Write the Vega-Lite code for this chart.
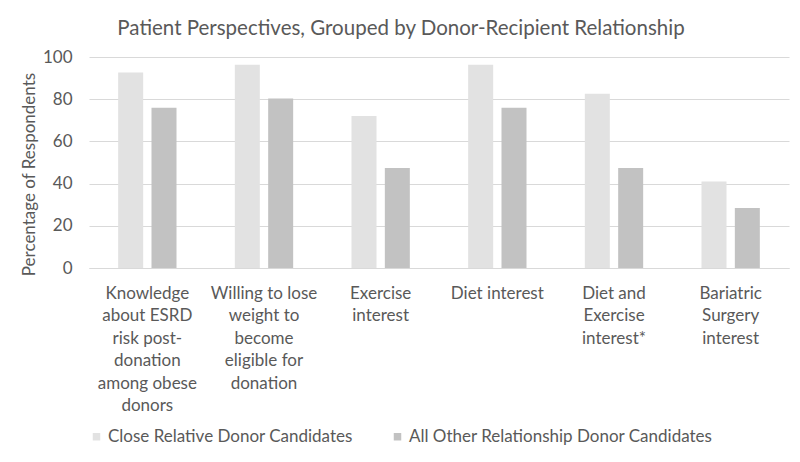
{
  "$schema": "https://vega.github.io/schema/vega-lite/v6.json",
  "width": 700,
  "height": 211,
  "autosize": {"type": "none"},
  "padding": {"left": 89, "top": 57, "right": 11, "bottom": 194},
  "background": "white",
  "config": {
    "font": "Lato",
    "view": {"stroke": null}
  },
  "title": {
    "text": "Patient Perspectives, Grouped by Donor-Recipient Relationship",
    "fontSize": 20.5,
    "fontWeight": "normal",
    "color": "#595959",
    "anchor": "middle",
    "dx": -38,
    "offset": 9
  },
  "data": {
    "values": [
      {"category": "Knowledge|about ESRD|risk post-|donation|among obese|donors", "group": "Close Relative Donor Candidates", "value": 92.6},
      {"category": "Knowledge|about ESRD|risk post-|donation|among obese|donors", "group": "All Other Relationship Donor Candidates", "value": 75.9},
      {"category": "Willing to lose|weight to|become|eligible for|donation", "group": "Close Relative Donor Candidates", "value": 96.3},
      {"category": "Willing to lose|weight to|become|eligible for|donation", "group": "All Other Relationship Donor Candidates", "value": 80.3},
      {"category": "Exercise|interest", "group": "Close Relative Donor Candidates", "value": 72.0},
      {"category": "Exercise|interest", "group": "All Other Relationship Donor Candidates", "value": 47.4},
      {"category": "Diet interest", "group": "Close Relative Donor Candidates", "value": 96.3},
      {"category": "Diet interest", "group": "All Other Relationship Donor Candidates", "value": 76.0},
      {"category": "Diet and|Exercise|interest*", "group": "Close Relative Donor Candidates", "value": 82.6},
      {"category": "Diet and|Exercise|interest*", "group": "All Other Relationship Donor Candidates", "value": 47.4},
      {"category": "Bariatric|Surgery|interest", "group": "Close Relative Donor Candidates", "value": 41.0},
      {"category": "Bariatric|Surgery|interest", "group": "All Other Relationship Donor Candidates", "value": 28.4}
    ]
  },
  "mark": {"type": "bar"},
  "encoding": {
    "x": {
      "field": "category",
      "type": "nominal",
      "sort": null,
      "scale": {"paddingInner": 0.5, "paddingOuter": 0.25},
      "axis": {
        "title": null,
        "labelAngle": 0,
        "labelExpr": "split(datum.value, '|')",
        "labelLineHeight": 22.5,
        "labelFontSize": 17,
        "labelColor": "#595959",
        "labelPadding": 17,
        "labelBaseline": "top",
        "ticks": false,
        "domainColor": "#d9d9d9",
        "domainWidth": 1,
        "labelLimit": 200
      }
    },
    "xOffset": {
      "field": "group",
      "type": "nominal",
      "sort": ["Close Relative Donor Candidates", "All Other Relationship Donor Candidates"],
      "scale": {"paddingInner": 0.25}
    },
    "y": {
      "field": "value",
      "type": "quantitative",
      "scale": {"domain": [0, 100]},
      "axis": {
        "title": "Percentage of Respondents",
        "titleFontSize": 17,
        "titleFontWeight": "normal",
        "titleColor": "#595959",
        "titleX": -60,
        "titleY": 117,
        "titleAlign": "center",
        "titleBaseline": "middle",
        "titleAngle": -90,
        "values": [0, 20, 40, 60, 80, 100],
        "labelFontSize": 17,
        "labelColor": "#595959",
        "labelPadding": 17,
        "ticks": false,
        "domain": false,
        "gridColor": "#d9d9d9",
        "gridWidth": 1
      }
    },
    "color": {
      "field": "group",
      "type": "nominal",
      "sort": ["Close Relative Donor Candidates", "All Other Relationship Donor Candidates"],
      "scale": {
        "domain": ["Close Relative Donor Candidates", "All Other Relationship Donor Candidates"],
        "range": ["#e2e2e2", "#c2c2c2"]
      },
      "legend": {
        "title": null,
        "orient": "none",
        "direction": "horizontal",
        "legendX": -1,
        "legendY": 371,
        "symbolType": "square",
        "symbolSize": 56,
        "labelOffset": 3,
        "labelFontSize": 17,
        "labelColor": "#595959",
        "columnPadding": 36,
        "labelLimit": 400,
        "padding": 0
      }
    }
  }
}
